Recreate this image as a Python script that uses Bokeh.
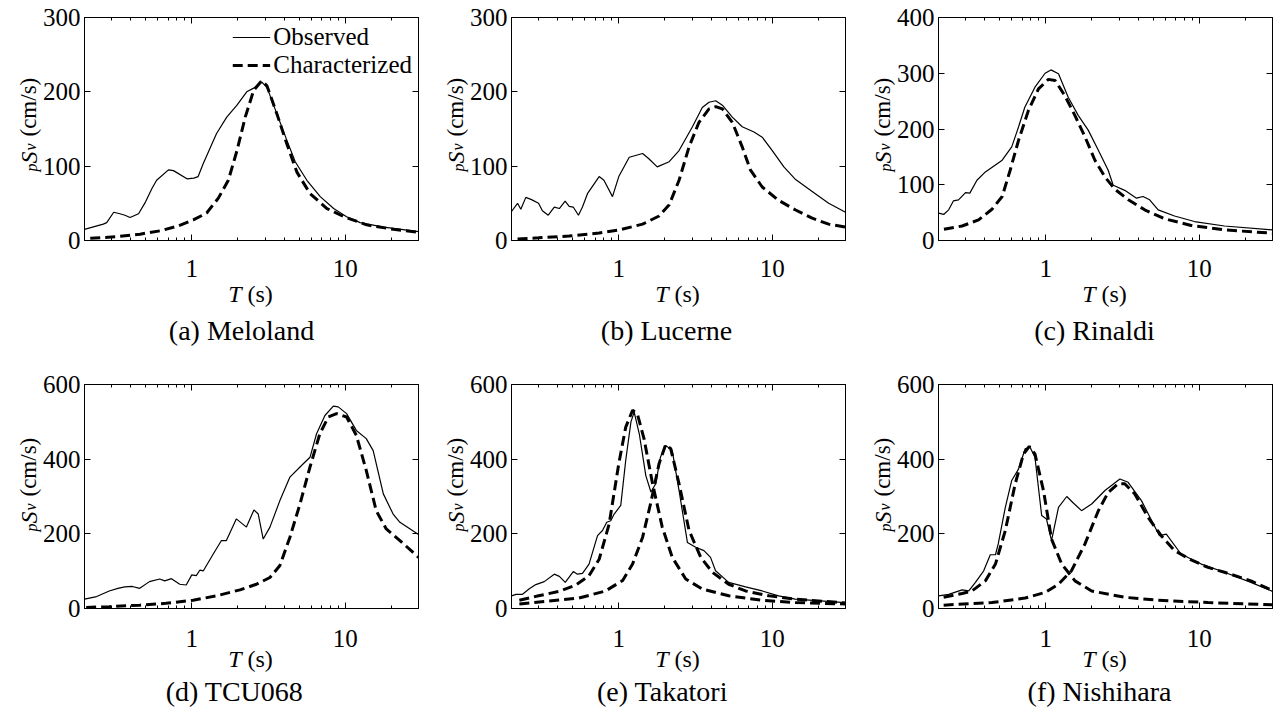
import math
from bokeh.plotting import figure
from bokeh.models import (LogAxis, LinearAxis, FixedTicker, Range1d, BasicTickFormatter)
from bokeh.core.properties import value
from bokeh.layouts import column, row
from bokeh.embed import file_html
from bokeh.resources import INLINE

FONT = "Liberation Serif"

# ---------------- data ----------------
x_lo, x_hi = 0.2, 30
x_ticks = [1, 10]
x_tick_labels = ["1", "10"]
x_minor = [0.3, 0.4, 0.5, 0.6, 0.7, 0.8, 0.9, 2, 3, 4, 5, 6, 7, 8, 9, 20]

captions = ["(a) Meloland", "(b) Lucerne", "(c) Rinaldi",
            "(d) TCU068", "(e) Takatori", "(f) Nishihara"]
y_max = [300, 300, 400, 600, 600, 600]
y_ticks = [[0, 100, 200, 300], [0, 100, 200, 300], [0, 100, 200, 300, 400],
           [0, 200, 400, 600], [0, 200, 400, 600], [0, 200, 400, 600]]

# (a) Meloland
a_obs_T = [0.2, 0.265, 0.279, 0.31, 0.34, 0.367, 0.396, 0.45, 0.5, 0.55, 0.59, 0.705, 0.76,
           0.93, 1.03, 1.1, 1.19, 1.45, 1.69, 1.97, 2.28, 2.53, 2.86, 3.09, 3.59, 4.16, 4.72,
           5.62, 6.87, 8.4, 10.2, 12.5, 17.8, 30]
a_obs_S = [15, 22, 24, 38, 36, 34, 31, 36, 52, 70, 81, 95, 94,
           83, 84, 86, 104, 144, 166, 182, 200, 205, 213, 206, 170, 135, 106,
           81, 59, 43, 32, 24, 18, 12]
a_chr_T = [0.218, 0.32, 0.46, 0.62, 0.80, 1.03, 1.25, 1.49, 1.73, 1.97, 2.23, 2.53, 2.86,
           3.09, 3.59, 4.16, 4.84, 5.9, 7.6, 9.8, 13.8, 20.6, 30]
a_chr_S = [3, 5, 8.5, 13, 19, 28, 37, 57, 81, 121, 166, 202, 215,
           208, 170, 130, 92, 63, 43, 32, 21, 15, 11]

# (b) Lucerne
b_obs_T = [0.2, 0.219, 0.23, 0.248, 0.27, 0.30, 0.318, 0.347, 0.38, 0.41, 0.447, 0.475,
           0.505, 0.546, 0.58, 0.625, 0.745, 0.80, 0.91, 1.0, 1.17, 1.43, 1.57, 1.78, 2.13,
           2.47, 3.02, 3.5, 3.87, 4.28, 4.73, 5.49, 6.37, 7.6, 8.6, 10, 11.9, 14.2, 18.2,
           23.3, 30]
b_obs_S = [39, 50, 42, 58, 55, 50, 40, 34, 45, 43, 53, 46,
           45, 34, 45, 63, 86, 81, 59, 86, 112, 117, 110, 99, 106,
           121, 153, 179, 186, 188, 182, 166, 153, 146, 139, 121, 99, 82, 66,
           50, 38]
b_chr_T = [0.219, 0.30, 0.475, 0.745, 1.0, 1.43, 1.83, 2.13, 2.47, 2.87, 3.33, 3.87, 4.28,
           4.73, 5.49, 6.37, 7.2, 8.6, 11, 14.2, 18.2, 23.3, 30]
b_chr_S = [2, 3.6, 6, 10, 14, 22, 33, 48, 81, 126, 159, 177, 180,
           177, 159, 126, 95, 72, 54, 41, 30, 22, 18]

# (c) Rinaldi
c_obs_T = [0.2, 0.217, 0.233, 0.25, 0.27, 0.30, 0.32, 0.356, 0.404, 0.52, 0.60, 0.665, 0.73,
           0.85, 0.99, 1.08, 1.21, 1.4, 1.63, 1.89, 2.2, 2.55, 2.75, 3.27, 3.9, 4.3, 4.75,
           5.4, 6.9, 9.3, 14.6, 30]
c_obs_S = [49, 47, 55, 71, 73, 86, 85, 108, 123, 144, 168, 204, 239,
           275, 300, 306, 299, 257, 224, 198, 162, 126, 99, 90, 76, 79, 73,
           55, 44, 34, 26, 19]
c_chr_T = [0.217, 0.285, 0.365, 0.446, 0.52, 0.586, 0.665, 0.77, 0.896, 1.04, 1.15, 1.33,
           1.55, 1.8, 2.09, 2.43, 2.82, 3.45, 4.41, 5.95, 8.86, 14.6, 30]
c_chr_S = [20, 26, 37, 56, 79, 126, 180, 233, 272, 289, 287, 260,
           224, 186, 144, 114, 92, 73, 55, 39, 27, 19, 13]

# (d) TCU068
d_obs_T = [0.2, 0.24, 0.29, 0.33, 0.366, 0.41, 0.458, 0.53, 0.618, 0.667, 0.737, 0.835, 0.92,
           1.0, 1.07, 1.13, 1.19, 1.38, 1.56, 1.68, 1.95, 2.27, 2.54, 2.71, 2.92, 3.23, 3.75,
           4.36, 5.07, 5.89, 6.5, 7.37, 8.36, 9.0, 10.2, 11.8, 13.7, 15.2, 17.7, 20.5, 22.7, 30]
d_obs_S = [25, 32, 47, 54, 58, 59, 54, 72, 79, 74, 80, 65, 63,
           90, 88, 103, 101, 146, 182, 182, 240, 218, 264, 253, 186, 218, 289,
           352, 379, 405, 468, 517, 542, 540, 522, 477, 455, 423, 307, 253, 231, 198]
d_chr_T = [0.205, 0.29, 0.458, 0.68, 1.02, 1.45, 2.06, 2.64, 3.23, 3.75, 4.36, 5.07, 5.89,
           6.83, 7.75, 8.78, 10.2, 11.8, 13.7, 15.9, 18.5, 22.7, 30]
d_chr_S = [3, 5, 9, 14, 22, 34, 50, 65, 83, 115, 191, 280, 379,
           468, 513, 522, 513, 464, 370, 262, 213, 182, 137]

# (e) Takatori
e_obs_T = [0.2, 0.214, 0.236, 0.26, 0.288, 0.327, 0.38, 0.41, 0.448, 0.475, 0.505, 0.538,
           0.58, 0.64, 0.727, 0.783, 0.835, 0.887, 0.933, 1.03, 1.11, 1.2, 1.26, 1.36, 1.5,
           1.62, 1.74, 1.87, 2.02, 2.23, 2.47, 2.8, 3.17, 3.59, 3.96, 4.27, 5.2, 6.7, 8.6,
           11, 14.1, 30]
e_obs_S = [34, 38, 38, 52, 64, 72, 92, 86, 70, 84, 99, 92,
           94, 119, 195, 209, 231, 235, 253, 276, 397, 500, 526, 468, 356,
           312, 334, 406, 437, 423, 316, 177, 164, 155, 137, 101, 70, 58, 47,
           34, 25, 16]
e_chr1_T = [0.225, 0.30, 0.41, 0.525, 0.64, 0.745, 0.865, 1.0, 1.11, 1.23, 1.32, 1.46, 1.66,
            1.92, 2.23, 2.73, 3.5, 5.2, 8.6, 14.1, 30]
e_chr1_S = [22, 34, 46, 63, 88, 132, 226, 388, 486, 531, 522, 455, 334,
            218, 137, 79, 52, 34, 22, 16, 12]
e_chr2_T = [0.225, 0.335, 0.55, 0.82, 1.06, 1.23, 1.43, 1.62, 1.83, 2.02, 2.18, 2.47, 2.87,
            3.42, 4.07, 5.2, 6.7, 9.5, 14.1, 30]
e_chr2_S = [12, 19, 28, 47, 75, 119, 191, 285, 388, 439, 428, 334, 209,
            137, 97, 65, 47, 34, 25, 15]

# (f) Nishihara
f_obs_T = [0.2, 0.233, 0.285, 0.315, 0.348, 0.394, 0.435, 0.47, 0.49, 0.545, 0.60, 0.665,
           0.734, 0.79, 0.85, 0.94, 1.01, 1.09, 1.21, 1.37, 1.5, 1.71, 1.99, 2.43, 3.04, 3.44,
           4.2, 5.5, 6.1, 7.6, 10.3, 14.6, 21.7, 30]
f_obs_S = [34, 38, 50, 47, 70, 101, 144, 144, 173, 271, 343, 374,
           428, 432, 405, 249, 240, 182, 271, 300, 284, 262, 280, 316, 347, 338,
           289, 195, 199, 146, 119, 97, 70, 46]
f_chr1_T = [0.216, 0.285, 0.33, 0.404, 0.47, 0.545, 0.632, 0.716, 0.78, 0.85, 0.966, 1.09,
            1.27, 1.55, 1.99, 3.27, 5.4, 11.4, 30]
f_chr1_S = [30, 40, 47, 74, 119, 209, 334, 414, 434, 414, 316, 186,
            119, 74, 47, 30, 22, 16, 10]
f_chr2_T = [0.216, 0.446, 0.734, 0.99, 1.21, 1.47, 1.8, 2.2, 2.55, 2.96, 3.27, 3.8, 4.64,
            5.65, 6.9, 8.86, 11.4, 14.6, 21.7, 30]
f_chr2_S = [9, 16, 28, 43, 65, 101, 173, 262, 311, 334, 334, 307, 244,
            195, 155, 130, 110, 97, 74, 48]

observed = [(a_obs_T, a_obs_S), (b_obs_T, b_obs_S), (c_obs_T, c_obs_S),
            (d_obs_T, d_obs_S), (e_obs_T, e_obs_S), (f_obs_T, f_obs_S)]
characterized = [[(a_chr_T, a_chr_S)], [(b_chr_T, b_chr_S)], [(c_chr_T, c_chr_S)],
                 [(d_chr_T, d_chr_S)], [(e_chr1_T, e_chr1_S), (e_chr2_T, e_chr2_S)],
                 [(f_chr1_T, f_chr1_S), (f_chr2_T, f_chr2_S)]]

# ---------------- layout (pixels) ----------------
side_w = 82                      # left strip: y tick labels and rotated y label
edge = 2                         # thin border of the plot itself
frame_w = 334
border_right = [9, 9, 5]
border_top = [17, 36]
frame_h = [223, 224]
strip_h = [106, 97]              # strip under each plot: x tick labels, x label, caption
tick_base = [80, 69]             # baselines, measured from the strip bottom
xlabel_base = [55, 49]
caption_base = [18, 16]
caption_dx = [157, 155, 156, 150, 151, 161]
ylab_shift = [0, 8]


def style_axis(ax):
    ax.axis_line_color = "black"
    ax.axis_line_width = 1
    ax.major_tick_line_color = "black"
    ax.minor_tick_line_color = "black"
    ax.major_tick_in = 6
    ax.major_tick_out = 0
    ax.minor_tick_in = 3
    ax.minor_tick_out = 0
    ax.major_label_text_font = FONT
    ax.major_label_text_font_size = "1px"
    ax.major_label_text_alpha = 0
    ax.major_label_standoff = 0


def put(f, x, y, text, size, style="normal", align="left", angle=0.0, dx=0,
        baseline="alphabetic"):
    f.text(x=[x], y=[y], text=[text], text_font=value(FONT), text_font_size=value(size),
           text_font_style=value(style), text_align=value(align),
           text_baseline=value(baseline), angle=angle, x_offset=dx,
           text_color="black")


def blank(f):
    f.outline_line_color = None
    f.background_fill_color = "white"
    f.border_fill_color = "white"
    f.grid.visible = False


def make_panel(i):
    r, c = divmod(i, 3)
    ph = border_top[r] + frame_h[r] + edge
    pw = edge + frame_w + border_right[c]
    p = figure(width=pw, height=ph, x_axis_type="log",
               x_range=Range1d(x_lo, x_hi), y_range=Range1d(0, y_max[i]),
               output_backend="svg", toolbar_location=None,
               min_border_left=edge, min_border_right=border_right[c],
               min_border_top=border_top[r], min_border_bottom=edge)
    p.background_fill_color = "white"
    p.border_fill_color = "white"
    p.outline_line_color = "black"
    p.outline_line_width = 1
    p.xgrid.visible = False
    p.ygrid.visible = False

    xt = FixedTicker(ticks=x_ticks, minor_ticks=x_minor)
    yt = FixedTicker(ticks=y_ticks[i])
    p.xaxis[0].ticker = xt
    p.xaxis[0].formatter = BasicTickFormatter()
    style_axis(p.xaxis[0])
    p.yaxis[0].ticker = yt
    style_axis(p.yaxis[0])
    top = LogAxis(ticker=xt)
    style_axis(top)
    p.add_layout(top, "above")
    right = LinearAxis(ticker=yt)
    style_axis(right)
    p.add_layout(right, "right")

    T, S = observed[i]
    kw_o = dict(line_color="black", line_width=1.2)
    kw_c = dict(line_color="black", line_width=3, line_dash="10 5")
    if i == 0:
        p.line(T, S, legend_label="Observed", **kw_o)
    else:
        p.line(T, S, **kw_o)
    for k, (Tc, Sc) in enumerate(characterized[i]):
        if i == 0 and k == 0:
            p.line(Tc, Sc, legend_label="Characterized", **kw_c)
        else:
            p.line(Tc, Sc, **kw_c)

    if i == 0:
        lg = p.legend[0]
        lg.location = "top_right"
        lg.border_line_color = None
        lg.background_fill_alpha = 0
        lg.label_text_font = FONT
        lg.label_text_font_size = "25px"
        lg.label_text_color = "black"
        lg.glyph_width = 38
        lg.glyph_height = 26
        lg.label_height = 26
        lg.label_standoff = 3
        lg.spacing = 0
        lg.padding = 0
        lg.margin = 6

    # left strip: same vertical scale as the plot frame
    sh = strip_h[r]
    k = y_max[i] / frame_h[r]             # data units per pixel
    yl = figure(width=side_w, height=ph + sh, x_range=Range1d(0, side_w),
                y_range=Range1d(-(edge + sh) * k, y_max[i] + border_top[r] * k),
                x_axis_location=None, y_axis_location=None, output_backend="svg",
                toolbar_location=None, min_border=0)
    blank(yl)
    yl.text(x=[side_w - 2] * len(y_ticks[i]), y=y_ticks[i], text=[str(t) for t in y_ticks[i]],
            text_font=value(FONT), text_font_size=value("25px"), text_align=value("right"),
            text_baseline=value("middle"), text_color="black")
    s = ylab_shift[r]
    a90 = math.pi / 2
    put(yl, 31, (s + 77) * k, "p", "16px", "italic", "right", a90)
    put(yl, 28, (s + 77) * k, "S", "24px", "italic", "left", a90)
    put(yl, 30, (s + 90) * k, "v", "16px", "italic", "left", a90)
    put(yl, 28, (s + 104) * k, "(cm/s)", "23px", "normal", "left", a90)

    # strip under the plot: x tick labels, x label, caption
    st = figure(width=pw, height=sh, x_axis_type="log",
                x_range=Range1d(x_lo, x_hi), y_range=Range1d(0, sh),
                x_axis_location=None, y_axis_location=None, output_backend="svg",
                toolbar_location=None, min_border_left=edge,
                min_border_right=border_right[c], min_border_top=0, min_border_bottom=0)
    blank(st)
    st.text(x=x_ticks, y=[tick_base[r]] * len(x_ticks), text=x_tick_labels,
            text_font=value(FONT), text_font_size=value("25px"), text_align=value("center"),
            text_baseline=value("alphabetic"), text_color="black")
    mid = math.sqrt(x_lo * x_hi)          # centre of the log frame
    half = frame_w / 2
    put(st, mid, xlabel_base[r], "T", "24px", "italic", "right", dx=157 - half)
    put(st, mid, xlabel_base[r], "(s)", "24px", "normal", "left", dx=163 - half)
    put(st, mid, caption_base[r], captions[i], "28px", "normal", "center",
        dx=caption_dx[i] - half)

    return row(yl, column(p, st))


panels = [make_panel(i) for i in range(6)]
layout = column(row(*panels[:3]), row(*panels[3:]))
open("out.html", "w").write(file_html(layout, INLINE))
